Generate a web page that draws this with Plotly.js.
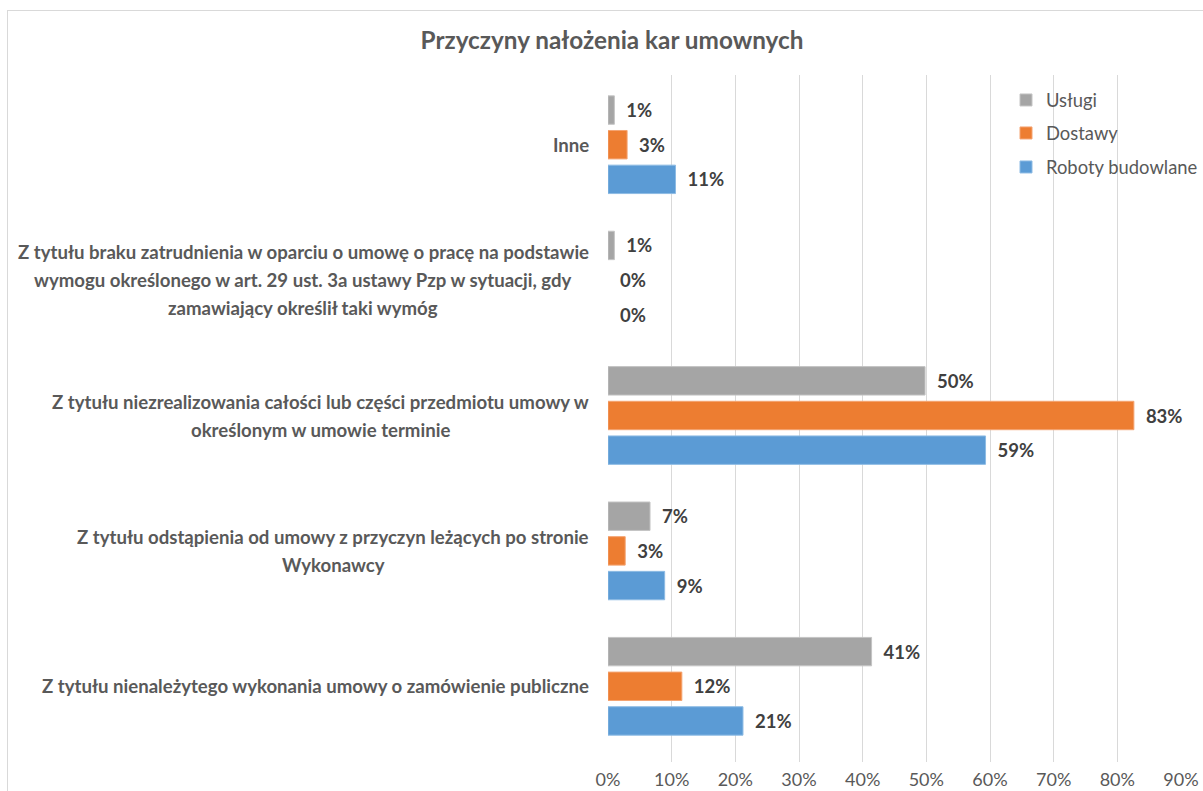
<!DOCTYPE html>
<html><head><meta charset="utf-8">
<script src="https://cdn.plot.ly/plotly-3.0.1.min.js"></script>
<style>html,body{margin:0;padding:0;background:#fff}#chart{width:1203px;height:791px}</style>
</head><body><div id="chart"></div>
<script>
// ---- data ----
const categories = [
  "Inne",
  "Z tytułu braku zatrudnienia w oparciu o umowę o pracę na podstawie<br>wymogu określonego w art. 29 ust. 3a ustawy Pzp w sytuacji, gdy<br>zamawiający określił taki wymóg",
  "Z tytułu niezrealizowania całości lub części przedmiotu umowy w<br>określonym w umowie terminie",
  "Z tytułu odstąpienia od umowy z przyczyn leżących po stronie<br>Wykonawcy",
  "Z tytułu nienależytego wykonania umowy o zamówienie publiczne"
];
const seriesNames = ["Usługi", "Dostawy", "Roboty budowlane"];
const uslugi  = [0.010, 0.010, 0.498, 0.066, 0.414];
const dostawy = [0.030, 0.000, 0.826, 0.027, 0.116];
const roboty  = [0.106, 0.000, 0.593, 0.089, 0.212];
const xTickVals = [0, 0.1, 0.2, 0.3, 0.4, 0.5, 0.6, 0.7, 0.8, 0.9];
const chartTitle = "Przyczyny nałożenia kar umownych";

// ---- layout helpers ----
const W = 1203, H = 791, L = 608, R = 1181, T = 75, B = 762;
const px = v => (v - L) / (R - L);
const py = v => (B - v) / (B - T);
const FONT = "Lato, 'Open Sans', sans-serif";
const colors = ["#A5A5A5", "#ED7D31", "#5B9BD5"];
const lineColors = ["#C4C4C4", "#F4A472", "#8DBBE4"];
const values = [uslugi, dostawy, roboty];
const legendIds = ["legend", "legend2", "legend3"];

const traces = values.map((vals, i) => ({
  type: "bar", orientation: "h",
  name: seriesNames[i],
  x: vals, y: categories,
  marker: {color: colors[i], line: {color: lineColors[i], width: vals.map(v => v > 0 ? 1 : 0)}},
  texttemplate: "\u00a0\u00a0%{x:.0%}", textposition: "outside",
  textfont: {family: FONT, size: 18.5, color: "#404040", weight: "bold"},
  cliponaxis: false,
  legend: legendIds[i],
  hoverinfo: "skip"
}));

const CAT_SIZE = 18.6;
const catFont = {family: FONT, size: CAT_SIZE, color: "#595959", weight: "bold"};
const canvas = document.createElement("canvas");
const ctx = canvas.getContext("2d");
ctx.font = "bold " + CAT_SIZE + "px Lato";
const lineH = 28;
const annotations = [];
categories.forEach((cat, i) => {
  const lines = cat.split("<br>");
  const maxW = Math.max(...lines.map(s => ctx.measureText(s).width));
  const cx = 589 - maxW / 2;
  lines.forEach((s, j) => {
    annotations.push({
      xref: "paper", x: px(cx), xanchor: "center",
      yref: "y", y: cat, yanchor: "middle",
      yshift: ((lines.length - 1) / 2 - j) * lineH,
      text: s, showarrow: false, font: catFont
    });
  });
});

const legendBase = {xref: "container", yref: "container", xanchor: "left", yanchor: "middle",
  bgcolor: "rgba(0,0,0,0)", font: {family: FONT, size: 18.4, color: "#595959"}, itemwidth: 30};
const legendY = [100, 133, 167];
const legendX = 1006;

const layout = {
  width: W, height: H,
  margin: {l: L, r: W - R, t: T, b: H - B, pad: 0, autoexpand: false},
  paper_bgcolor: "#fff", plot_bgcolor: "#fff",
  title: {text: chartTitle, x: 612 / W, xanchor: "center", xref: "container",
          y: 1 - 40 / H, yanchor: "middle", yref: "container",
          font: {family: FONT, size: 24.3, color: "#595959", weight: "bold"}},
  barmode: "group", bargap: 0.232, bargroupgap: 0.18,
  xaxis: {range: [0, 0.9], tickvals: xTickVals, tickformat: ".0%",
          showgrid: true, gridcolor: "#D9D9D9", gridwidth: 1,
          zeroline: false, showline: false, ticks: "",
          ticklabelstandoff: 5, automargin: false,
          tickfont: {family: FONT, size: 18, color: "#595959"}, fixedrange: true},
  yaxis: {type: "category", range: [4.5 + 8 / 135.25, -0.5 - 2 / 135.25], automargin: false,
          showticklabels: false, showgrid: false, zeroline: false, showline: false, ticks: ""},
  showlegend: true,
  legend:  Object.assign({}, legendBase, {x: legendX / W, y: 1 - legendY[0] / H}),
  legend2: Object.assign({}, legendBase, {x: legendX / W, y: 1 - legendY[1] / H}),
  legend3: Object.assign({}, legendBase, {x: legendX / W, y: 1 - legendY[2] / H}),
  annotations: annotations,
  shapes: [
    {type: "line", xref: "paper", yref: "paper", x0: px(7.5), x1: px(7.5), y0: py(10), y1: py(800),
     line: {color: "#D9D9D9", width: 1}},
    {type: "line", xref: "paper", yref: "paper", x0: px(7.5), x1: px(1210), y0: py(10.5), y1: py(10.5),
     line: {color: "#D9D9D9", width: 1}}
  ]
};

Plotly.newPlot("chart", traces, layout, {displayModeBar: false, staticPlot: true});
</script>
</body></html>
